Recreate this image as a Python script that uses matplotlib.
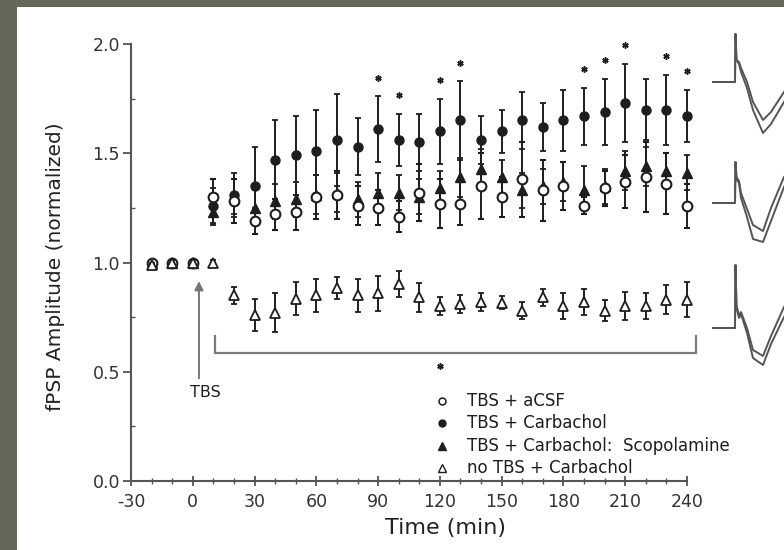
import numpy as np
import matplotlib
matplotlib.use("Agg")
import matplotlib.pyplot as plt
from matplotlib.patches import Rectangle
from matplotlib.ticker import MultipleLocator

plt.rcParams["axes.unicode_minus"] = False

# time points (min)
times = [-20, -10, 0, 10, 20, 30, 40, 50, 60, 70, 80, 90, 100, 110, 120,
         130, 140, 150, 160, 170, 180, 190, 200, 210, 220, 230, 240]

# TBS + aCSF (open circles)
acsf_mean = [1.00, 1.00, 1.00, 1.30, 1.28, 1.19, 1.22, 1.23, 1.30, 1.31, 1.26, 1.25, 1.21, 1.32,
             1.27, 1.27, 1.35, 1.30, 1.38, 1.33, 1.35, 1.26, 1.34, 1.37, 1.39, 1.36, 1.26]
acsf_sem = [0.01, 0.01, 0.01, 0.08, 0.10, 0.06, 0.07, 0.08, 0.10, 0.11, 0.09, 0.08, 0.07, 0.13,
            0.11, 0.10, 0.15, 0.09, 0.17, 0.14, 0.11, 0.04, 0.08, 0.12, 0.16, 0.14, 0.10]

# TBS + Carbachol (filled circles)
carb_mean = [1.00, 1.00, 1.00, 1.26, 1.31, 1.35, 1.47, 1.49, 1.51, 1.56, 1.53, 1.61, 1.56, 1.55,
             1.60, 1.65, 1.56, 1.60, 1.65, 1.62, 1.65, 1.67, 1.69, 1.73, 1.70, 1.70, 1.67]
carb_sem = [0.01, 0.01, 0.01, 0.08, 0.10, 0.18, 0.18, 0.18, 0.19, 0.21, 0.13, 0.15, 0.12, 0.13,
            0.15, 0.18, 0.11, 0.10, 0.13, 0.11, 0.14, 0.13, 0.15, 0.18, 0.14, 0.16, 0.12]

# TBS + Carbachol: Scopolamine (filled triangles)
scop_mean = [1.00, 1.00, 1.00, 1.23, 1.30, 1.25, 1.28, 1.29, 1.31, 1.32, 1.29, 1.32, 1.32, 1.30,
             1.34, 1.39, 1.43, 1.39, 1.33, 1.35, 1.37, 1.33, 1.35, 1.42, 1.44, 1.42, 1.41]
scop_sem = [0.01, 0.01, 0.01, 0.06, 0.08, 0.08, 0.08, 0.08, 0.09, 0.09, 0.08, 0.09, 0.08, 0.08,
            0.08, 0.09, 0.09, 0.08, 0.08, 0.08, 0.09, 0.11, 0.08, 0.09, 0.09, 0.08, 0.08]

# no TBS + Carbachol (open triangles)
notbs_mean = [0.99, 1.00, 1.00, 1.00, 0.85, 0.76, 0.77, 0.835, 0.85, 0.885, 0.85, 0.86, 0.90, 0.84,
              0.80, 0.81, 0.82, 0.815, 0.78, 0.84, 0.80, 0.82, 0.78, 0.80, 0.80, 0.83, 0.83]
notbs_sem = [0.01, 0.01, 0.01, 0.01, 0.04, 0.075, 0.09, 0.075, 0.075, 0.05, 0.075, 0.08, 0.06, 0.065,
             0.04, 0.04, 0.04, 0.03, 0.04, 0.04, 0.06, 0.06, 0.05, 0.065, 0.06, 0.065, 0.08]

# times with significant carbachol effect
sig_times = [90, 100, 120, 130, 190, 200, 210, 230, 240]

legend_labels = ["TBS + aCSF", "TBS + Carbachol", "TBS + Carbachol:  Scopolamine", "no TBS + Carbachol"]

# example fPSP traces (px-ish units: time offset, amplitude), two sweeps each
trace_t = [0, 22, 22.5, 23.5, 26, 28, 34, 40, 50, 58, 71]
trace1_a = [0, 0, 48, 22, 20, 14, 0, -20, -38, -30, -10]
trace1_b = [0, 0, 48, 22, 18, 10, -6, -28, -51, -42, -20]
trace2_a = [0, 0, 41, 26, 22, 10, -6, -22, -28, -5, 26]
trace2_b = [0, 0, 41, 24, 20, 5, -14, -36, -39, -18, 16]
trace3_a = [0, 0, 63, 23, 12, 16, 0, -22, -28, -8, 21]
trace3_b = [0, 0, 63, 20, 10, 14, -5, -30, -37, -16, 11]

W, H = 784, 550
fig = plt.figure(figsize=(W / 100, H / 100), dpi=100)
fig.patch.set_facecolor("#66665a")
fig.patches.append(Rectangle((17 / W, 0), 1, (H - 7) / H, transform=fig.transFigure,
                             facecolor="white", edgecolor="none", zorder=-5))

ax = fig.add_axes([131 / W, 69 / H, 556 / W, 437 / H])
ax.set_facecolor("none")
ax.set_xlim(-30, 240)
ax.set_ylim(0, 2.0)

ink = "#1e1e1e"
axcol = "#555555"

ebkw = dict(ecolor=ink, elinewidth=1.4, capsize=2.5, capthick=1.3, linestyle="none", clip_on=False)
e1 = ax.errorbar(times, carb_mean, yerr=carb_sem, marker="o", ms=6.5, mfc=ink, mec=ink, zorder=3, **ebkw)
e2 = ax.errorbar(times, scop_mean, yerr=scop_sem, marker="^", ms=7, mfc=ink, mec=ink, zorder=4, **ebkw)
e3 = ax.errorbar(times, acsf_mean, yerr=acsf_sem, marker="o", ms=7, mfc="white", mec=ink,
                 mew=1.5, zorder=5, **ebkw)
e4 = ax.errorbar(times, notbs_mean, yerr=notbs_sem, marker="^", ms=7.5, mfc="white", mec=ink,
                 mew=1.3, zorder=6, **ebkw)
for e in (e1, e2, e3, e4):
    for art in e.lines[1] + e.lines[2]:
        art.set_clip_on(False)

# asterisks above the carbachol error bars
idx = [times.index(t) for t in sig_times]
star_y = [carb_mean[i] + carb_sem[i] + 0.085 for i in idx]
ax.plot(sig_times, star_y, linestyle="none", marker=(6, 2, 0), ms=4.5, mec=ink, mew=1.1, clip_on=False)

# bracket for the no-TBS group and its asterisk
ax.plot([11, 11, 244.5, 244.5], [0.665, 0.587, 0.587, 0.665], color="#7a7a7a", lw=1.6,
        clip_on=False, solid_joinstyle="miter")
ax.plot([120], [0.525], linestyle="none", marker=(6, 2, 0), ms=4.5, mec=ink, mew=1.1)

# TBS arrow
ax.annotate("", xy=(3, 0.915), xytext=(3, 0.47),
            arrowprops=dict(arrowstyle="-|>", color="#777777", lw=1.4, mutation_scale=13,
                            shrinkA=0, shrinkB=0))
ax.text(6, 0.405, "TBS", ha="center", va="center", fontsize=11.5, color=ink)

# legend drawn by hand
leg_y = [0.365, 0.265, 0.16, 0.058]
leg_style = [dict(marker="o", mfc="white", mec=ink, ms=5, mew=1.1),
             dict(marker="o", mfc=ink, mec=ink, ms=5),
             dict(marker="^", mfc=ink, mec=ink, ms=5.5),
             dict(marker="^", mfc="white", mec=ink, ms=5.5, mew=1.0)]
for y, lab, st in zip(leg_y, legend_labels, leg_style):
    ax.plot([121], [y], linestyle="none", **st)
    ax.text(133, y, lab, ha="left", va="center", fontsize=12, color=ink)

# axes styling
for s in ("top", "right"):
    ax.spines[s].set_visible(False)
for s in ("left", "bottom"):
    ax.spines[s].set_color(axcol)
    ax.spines[s].set_linewidth(1.5)
ax.set_xticks(range(-30, 241, 30))
ax.xaxis.set_minor_locator(MultipleLocator(10))
ax.set_yticks([0, 0.5, 1.0, 1.5, 2.0])
ax.yaxis.set_minor_locator(MultipleLocator(0.25))
ax.set_yticklabels(["0.0", "0.5", "1.0", "1.5", "2.0"])
ax.tick_params(axis="x", which="major", direction="inout", length=7, width=1.3, colors=axcol,
               labelcolor="#333333", labelsize=12.5, pad=5)
ax.tick_params(axis="x", which="minor", direction="inout", length=4, width=1.0, colors=axcol)
ax.tick_params(axis="y", which="major", direction="out", length=6, width=1.3, colors=axcol,
               labelcolor="#333333", labelsize=12.5, pad=2)
ax.tick_params(axis="y", which="minor", direction="in", length=3, width=1.0, colors=axcol)

ax.set_xlabel("Time (min)", fontsize=16, color="#222222")
ax.xaxis.set_label_coords(0.565, -0.085)
ax.set_ylabel("fPSP Amplitude (normalized)", fontsize=14.5, color="#222222")
ax.yaxis.set_label_coords(-0.118, 0.49)

# example traces on the right (figure pixel coordinates)
tr = fig.add_axes([0, 0, 1, 1])
tr.set_xlim(0, W)
tr.set_ylim(H, 0)
tr.axis("off")
tr.patch.set_alpha(0)
t_px = 713 + np.array(trace_t)
for base, a, b in ((82, trace1_a, trace1_b), (203, trace2_a, trace2_b), (328, trace3_a, trace3_b)):
    tr.plot(t_px, base - np.array(a), color="#555555", lw=1.4)
    tr.plot(t_px, base - np.array(b), color="#555555", lw=1.4)

fig.savefig("out.png", dpi=100, facecolor=fig.get_facecolor())
